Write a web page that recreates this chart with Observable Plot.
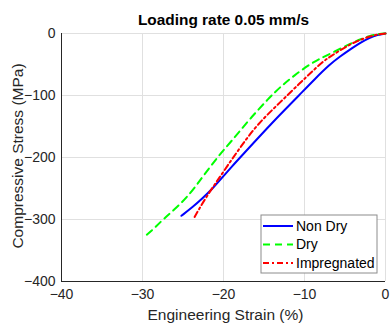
<!DOCTYPE html>
<html><head><meta charset="utf-8">
<script src="https://cdn.jsdelivr.net/npm/d3@7"></script>
<script src="https://cdn.jsdelivr.net/npm/@observablehq/plot@0.6"></script>
<style>
body{margin:0;background:#fff;}
#chart{position:relative;width:390px;height:324px;}
svg{font-family:"Liberation Sans",Arial,sans-serif;}
</style>
</head><body><div id="chart"></div>
<script>
const title = "Loading rate 0.05 mm/s";
const xLabel = "Engineering Strain (%)";
const yLabel = "Compressive Stress (MPa)";
const xTicks = [-40, -30, -20, -10, 0];
const yTicks = [-400, -300, -200, -100, 0];
const seriesNames = ["Non Dry", "Dry", "Impregnated"];

const nonDryStrain = [0, -1, -2, -3, -4.3, -5.6, -6.9, -8.7, -10.7, -12.5, -14.2, -15.9, -17.6, -19.0, -20.2, -21.4, -22.6, -23.8, -25.2];
const nonDryStress = [0, -2, -7, -14, -25, -37, -50, -73, -100, -124, -147, -171, -195, -215, -233, -251, -266, -280, -294];

const dryStrain = [0, -1, -2, -3, -4.3, -6.4, -8, -9.3, -11.3, -12.8, -14.4, -16.9, -19.1, -20.4, -21.7, -22.9, -24.1, -25.7, -27.4, -28.6, -29.6];
const dryStress = [0, -1, -4, -9, -16, -30, -40, -49, -68, -84, -104, -140, -175, -194, -216, -237, -258, -280, -299, -315, -326];

const impStrain = [0, -1, -2, -3.1, -4.3, -5.6, -6.8, -7.8, -9.1, -10.5, -13.0, -15.8, -17.9, -19.6, -20.9, -22.4, -23.7];
const impStress = [0, -1.5, -5, -10, -17, -27, -37, -46, -62, -79, -111, -146, -183, -215, -240, -269, -299];

const colors = ["#0000ff", "#00ff00", "#ff0000"];
const dashes = [null, "7,5", "6,3,2,3"];

const toRows = (xs, ys, name) => xs.map((x, i) => ({strain: x, stress: ys[i], series: name}));
const series = [
  toRows(nonDryStrain, nonDryStress, seriesNames[0]),
  toRows(dryStrain, dryStress, seriesNames[1]),
  toRows(impStrain, impStress, seriesNames[2])
];

const plot = Plot.plot({
  width: 390, height: 324,
  marginLeft: 61, marginRight: 5, marginTop: 33, marginBottom: 43,
  style: {fontFamily: "Liberation Sans, Arial, sans-serif", fontSize: "14px", color: "#262626", background: "#fff"},
  x: {domain: [-40, 0], ticks: xTicks, label: null},
  y: {domain: [-400, 0], ticks: yTicks, label: null},
  marks: [
    Plot.gridX(xTicks, {stroke: "#e0e0e0", strokeOpacity: 1, strokeWidth: 1}),
    Plot.gridY(yTicks, {stroke: "#e0e0e0", strokeOpacity: 1, strokeWidth: 1}),
    Plot.axisX(xTicks, {tickSize: 0, tickPadding: 8, fontSize: 14, fill: "#262626"}),
    Plot.axisY(yTicks, {tickSize: 0, tickPadding: 6, fontSize: 14, fill: "#262626"}),
    Plot.ruleX([-40], {stroke: "#262626", strokeWidth: 1}),
    Plot.ruleY([-400], {stroke: "#262626", strokeWidth: 1}),
    ...series.map((d, i) => Plot.line(d, {x: "strain", y: "stress", stroke: colors[i], strokeWidth: 2, strokeDasharray: dashes[i], curve: "basis"})),
    Plot.text([title], {frameAnchor: "top", lineAnchor: "middle", dy: -13, fontWeight: "bold", fontSize: 15.4, fill: "#000"}),
    Plot.text([xLabel], {frameAnchor: "bottom", lineAnchor: "middle", dx: 2, dy: 34, fontSize: 15.5, fill: "#262626"}),
    Plot.text([yLabel], {frameAnchor: "left", textAnchor: "middle", lineAnchor: "middle", dx: -43.5, dy: -1.5, rotate: -90, fontSize: 15.5, fill: "#262626"})
  ]
});
document.getElementById("chart").appendChild(plot);

// legend inside the SVG
const svg = d3.select(plot);
const lg = svg.append("g").attr("transform", "translate(261,215)");
lg.append("rect").attr("width", 116).attr("height", 58).attr("fill", "#fff").attr("stroke", "#8c8c8c").attr("stroke-width", 1);
seriesNames.forEach((name, i) => {
  const yy = 11 + i * 18.5;
  lg.append("line").attr("x1", 2).attr("x2", 32).attr("y1", yy).attr("y2", yy)
    .attr("stroke", colors[i]).attr("stroke-width", 2).attr("stroke-dasharray", dashes[i]);
  lg.append("text").attr("x", 35).attr("y", yy).attr("dy", "0.35em")
    .attr("text-anchor", "start").attr("font-size", 14).attr("fill", "#000").text(name);
});
</script>
</body></html>
